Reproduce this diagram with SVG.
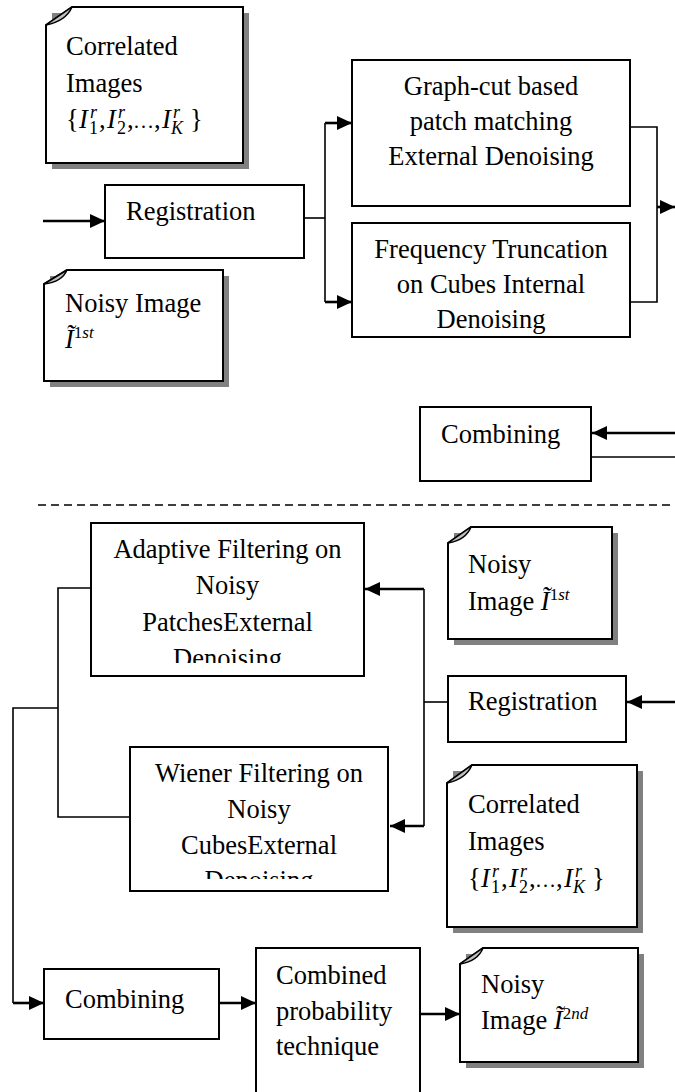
<svg xmlns="http://www.w3.org/2000/svg" width="675" height="1092" viewBox="0 0 675 1092">
<style>
.box{fill:#fff;stroke:#000;stroke-width:2}
.note{fill:#fff;stroke:#000;stroke-width:2}
.shadow{fill:#808080}
.fold{fill:#c0c0c0;stroke:#000;stroke-width:1.5;stroke-linejoin:round}
.t{font-family:"Liberation Serif","Times New Roman",serif;font-size:26.5px;fill:#000}
.c{text-anchor:middle}
.i{font-style:italic}
.s{font-size:17px}
.ss{font-size:18px}
.el{font-size:21px}
.line{fill:none;stroke:#000;stroke-width:1.6}
.arr{fill:none;stroke:#000;stroke-width:2.6;marker-end:url(#ah)}
.dash{fill:none;stroke:#000;stroke-width:1.5;stroke-dasharray:8 5}
</style>
<defs>
<marker id="ah" markerUnits="userSpaceOnUse" markerWidth="16" markerHeight="14" refX="15" refY="7" orient="auto"><path d="M0,0 L15,7 L0,14 Z" fill="#000"/></marker>
<clipPath id="clipA"><rect x="91" y="523" width="273" height="140"/></clipPath>
<clipPath id="clipW"><rect x="130" y="747" width="258" height="132"/></clipPath>
</defs>

<g id="connectors">
<path class="arr" d="M43,221 H105"/>
<path class="line" d="M304,218 H325"/>
<path class="line" d="M325,123 V302"/>
<path class="arr" d="M325,123 H352"/>
<path class="arr" d="M325,302 H352"/>
<path class="line" d="M630,127 H657 V302 H630"/>
<path class="arr" d="M657,207 H675"/>
<path class="arr" d="M675,433 H592"/>
<path class="line" d="M591,457 H675"/>
<path class="dash" d="M38,505 H675"/>
<path class="line" d="M91,588 H58 V817 H130"/>
<path class="line" d="M58,708 H13 V1003"/>
<path class="arr" d="M13,1003 H44"/>
<path class="line" d="M424,589 V826"/>
<path class="arr" d="M424,589 H365"/>
<path class="arr" d="M424,826 H390"/>
<path class="line" d="M448,702 H424"/>
<path class="arr" d="M675,702 H627"/>
<path class="arr" d="M219,1003 H256"/>
<path class="arr" d="M420,1014 H460"/>
</g>

<g id="note-correlated-top">
<rect class="shadow" x="52" y="13" width="197" height="156"/>
<path class="note" d="M46,25 L72,7 H243 V163 H46 Z"/>
<path class="fold" d="M46,25 L72,7 Q66,21 46,25 Z"/>
<text class="t" x="66" y="55">Correlated</text>
<text class="t" x="66" y="92">Images</text>
<text class="t"><tspan x="66" y="128">{</tspan><tspan class="i" x="79" y="128">I</tspan><tspan class="ss" x="89" y="134">1</tspan><tspan class="ss i" x="90" y="118">r</tspan><tspan x="99" y="128">,</tspan><tspan class="i" x="107" y="128">I</tspan><tspan class="ss" x="117" y="134">2</tspan><tspan class="ss i" x="118" y="118">r</tspan><tspan x="127" y="128">,</tspan><tspan class="el" x="133" y="128">…</tspan><tspan x="154" y="128">,</tspan><tspan class="i" x="162" y="128">I</tspan><tspan class="ss i" x="171" y="134">K</tspan><tspan class="ss i" x="173" y="118">r</tspan><tspan x="190" y="128">}</tspan></text>
</g>

<g id="node-registration-top">
<rect class="box" x="105" y="185" width="199" height="73"/>
<text class="t" x="126" y="220">Registration</text>
</g>

<g id="note-noisy-top">
<rect class="shadow" x="50" y="276" width="179" height="111"/>
<path class="note" d="M44,284 L67,270 H223 V381 H44 Z"/>
<path class="fold" d="M44,284 L67,270 Q62,282 44,284 Z"/>
<text class="t" x="65" y="312">Noisy Image</text>
<text class="t" x="65" y="348"><tspan class="i">Ĩ</tspan><tspan class="s" dy="-10">1</tspan><tspan class="s i">st</tspan></text>
</g>

<g id="node-graphcut">
<rect class="box" x="352" y="60" width="278" height="146"/>
<text class="t c" x="491" y="95">Graph-cut based</text>
<text class="t c" x="491" y="130">patch matching</text>
<text class="t c" x="491" y="165">External Denoising</text>
</g>

<g id="node-frequency">
<rect class="box" x="352" y="223" width="278" height="114"/>
<text class="t c" x="491" y="258">Frequency Truncation</text>
<text class="t c" x="491" y="293">on Cubes Internal</text>
<text class="t c" x="491" y="328">Denoising</text>
</g>

<g id="node-combining-top">
<rect class="box" x="420" y="407" width="171" height="74"/>
<text class="t" x="441" y="443">Combining</text>
</g>

<g id="node-adaptive">
<rect class="box" x="91" y="523" width="273" height="153"/>
<g clip-path="url(#clipA)">
<text class="t c" x="227.5" y="558">Adaptive Filtering on</text>
<text class="t c" x="227.5" y="594">Noisy</text>
<text class="t c" x="227.5" y="631">PatchesExternal</text>
<text class="t c" x="227.5" y="667">Denoising</text>
</g>
</g>

<g id="note-noisy-1st">
<rect class="shadow" x="454" y="533" width="164" height="112"/>
<path class="note" d="M448,543 L471,527 H612 V639 H448 Z"/>
<path class="fold" d="M448,543 L471,527 Q466,540 448,543 Z"/>
<text class="t" x="468" y="573">Noisy</text>
<text class="t" x="468" y="610">Image <tspan class="i">Ĩ</tspan><tspan class="s" dy="-10">1</tspan><tspan class="s i">st</tspan></text>
</g>

<g id="node-registration-bottom">
<rect class="box" x="448" y="676" width="178" height="66"/>
<text class="t" x="468" y="710">Registration</text>
</g>

<g id="node-wiener">
<rect class="box" x="130" y="747" width="258" height="144"/>
<g clip-path="url(#clipW)">
<text class="t c" x="259" y="782">Wiener Filtering on</text>
<text class="t c" x="259" y="818">Noisy</text>
<text class="t c" x="259" y="854">CubesExternal</text>
<text class="t c" x="259" y="889">Denoising</text>
</g>
</g>

<g id="note-correlated-bottom">
<rect class="shadow" x="453" y="771" width="190" height="162"/>
<path class="note" d="M447,783 L472,765 H637 V927 H447 Z"/>
<path class="fold" d="M447,783 L472,765 Q466,779 447,783 Z"/>
<text class="t" x="468" y="813">Correlated</text>
<text class="t" x="468" y="850">Images</text>
<text class="t"><tspan x="468" y="887">{</tspan><tspan class="i" x="481" y="887">I</tspan><tspan class="ss" x="491" y="893">1</tspan><tspan class="ss i" x="492" y="877">r</tspan><tspan x="501" y="887">,</tspan><tspan class="i" x="509" y="887">I</tspan><tspan class="ss" x="519" y="893">2</tspan><tspan class="ss i" x="520" y="877">r</tspan><tspan x="529" y="887">,</tspan><tspan class="el" x="535" y="887">…</tspan><tspan x="556" y="887">,</tspan><tspan class="i" x="564" y="887">I</tspan><tspan class="ss i" x="573" y="893">K</tspan><tspan class="ss i" x="575" y="877">r</tspan><tspan x="592" y="887">}</tspan></text>
</g>

<g id="node-combining-bottom">
<rect class="box" x="44" y="969" width="175" height="70"/>
<text class="t" x="65" y="1008">Combining</text>
</g>

<g id="node-combined-probability">
<rect class="box" x="256" y="948" width="164" height="150"/>
<text class="t" x="276" y="984">Combined</text>
<text class="t" x="276" y="1020">probability</text>
<text class="t" x="276" y="1055">technique</text>
</g>

<g id="note-noisy-2nd">
<rect class="shadow" x="466" y="954" width="178" height="114"/>
<path class="note" d="M460,964 L483,948 H638 V1062 H460 Z"/>
<path class="fold" d="M460,964 L483,948 Q478,961 460,964 Z"/>
<text class="t" x="481" y="993">Noisy</text>
<text class="t" x="481" y="1029">Image <tspan class="i">Ĩ</tspan><tspan class="s" dy="-10">2</tspan><tspan class="s i">nd</tspan></text>
</g>
</svg>
